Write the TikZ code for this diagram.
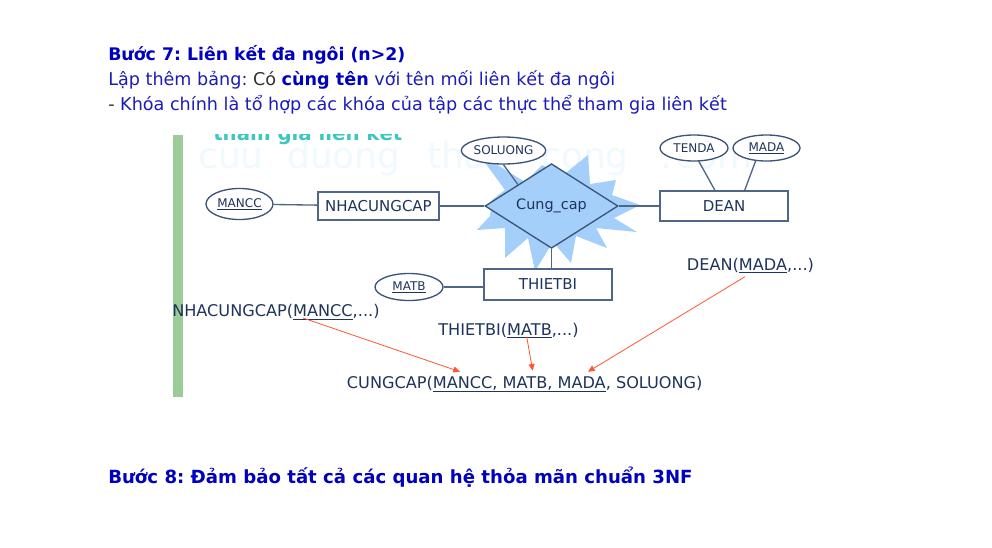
\documentclass[tikz,border=0pt]{standalone}
\usepackage{fontspec}
\setmainfont{DejaVu Sans}
\usetikzlibrary{shapes.geometric,arrows.meta,calc}
\definecolor{hblue}{RGB}{0,0,192}
\definecolor{tblue}{RGB}{28,28,184}
\definecolor{tgray}{RGB}{50,50,50}
\definecolor{diag}{RGB}{30,52,92}
\definecolor{lineC}{RGB}{80,102,135}
\definecolor{ellC}{RGB}{60,84,120}
\definecolor{starC}{RGB}{163,207,250}
\definecolor{arrowC}{RGB}{255,85,50}
\definecolor{barC}{RGB}{156,204,152}
\definecolor{wmC}{RGB}{240,249,254}
\definecolor{tealC}{RGB}{60,200,192}
\def\pxu{0.75pt}
\frenchspacing
\begin{document}
\begin{tikzpicture}[x=0.75pt,y=-0.75pt,
  hdr/.style={anchor=base west, inner sep=0, font=\fontsize{13.2}{15}\selectfont},
  rel/.style={anchor=base west, inner sep=0, text=diag, font=\fontsize{12.1}{14}\selectfont},
  ent/.style={rectangle, draw=lineC, fill=white, line width=1pt, inner sep=0, text=diag, font=\fontsize{11.25}{13}\selectfont},
  attr/.style={ellipse, draw=ellC, fill=white, line width=1pt, inner sep=0, text=diag, font=\fontsize{9}{11}\selectfont},
  rship/.style={diamond, draw=ellC, fill=starC, line width=1pt, inner sep=0, text=diag, font=\fontsize{10.8}{13}\selectfont},
  conn/.style={draw=lineC, line width=1pt},
  fk/.style={draw=arrowC, line width=0.6pt, -{Triangle[length=5pt,width=4.5pt]}},
  wm/.style={anchor=base west, inner sep=0, text=wmC, font=\fontsize{27}{30}\selectfont}
]
\useasboundingbox[fill=white] (0,0) rectangle (992,547);

% header text
\node[hdr, text=hblue, font=\fontsize{13}{15}\selectfont\bfseries] (h1) at (108,60.5) {Bước 7: Liên kết đa ngôi (n>2)};
\node[hdr, text=tblue] (h2) at (108,85.5) {Lập thêm bảng: \textcolor{tgray}{Có} \textbf{\textcolor{hblue}{cùng tên}} với tên mối liên kết đa ngôi};
\node[hdr, text=tblue] (h3) at (108,110.5) {\textcolor{tgray}{-} Khóa chính là tổ hợp các khóa của tập các thực thể tham gia liên kết};
\node[hdr, text=hblue, font=\fontsize{13.6}{15}\selectfont\bfseries] (h8) at (108,483.5) {Bước 8: Đảm bảo tất cả các quan hệ thỏa mãn chuẩn 3NF};

\begin{scope}
\clip (0,134.5) rectangle (992,547);
% watermark
\node[wm] (w1) at (198,168) {cuu};
\node[wm] (w2) at (287,168) {duong};
\node[wm] (w3) at (427,168) {than};
\node[wm] (w4) at (541,168) {cong};
\node[wm] (w5) at (660,168) {.};
\node[wm] (w6) at (675,168) {com};
% clipped slide title remnant
\node[anchor=base west, inner sep=0, text=tealC, font=\fontsize{14.8}{17}\selectfont\bfseries] (tg) at (213,140.5) {tham gia liên kết};
% green bar
\fill[barC] (173,134.5) rectangle (183,397);

% starburst
\fill[starC] (478,153) -- (525,182) -- (542,165) -- (562,176) -- (588,155) -- (590,184)
  -- (616,180) -- (612,195) -- (640,205) -- (614,218) -- (637,232) -- (596,228)
  -- (607,248) -- (576,236) -- (571,263) -- (553,242) -- (535,271) -- (528,238)
  -- (505,258) -- (505,228) -- (477,230) -- (490,216) -- (492,200) -- (505,190) -- cycle;

% entities, relationship, attributes
\node[ent, minimum width=121*\pxu, minimum height=28*\pxu] (ncc) at (378.5,206) {NHACUNGCAP};
\node[ent, minimum width=128*\pxu, minimum height=30*\pxu] (dean) at (724,206) {DEAN};
\node[ent, minimum width=128*\pxu, minimum height=31*\pxu] (tb) at (548,284.5) {THIETBI};
\node[rship, minimum width=133*\pxu, minimum height=54*\pxu] (cc) at (551.5,206) {Cung\_cap};
\node[attr, minimum width=67*\pxu, minimum height=31*\pxu] (mancc) at (239.5,204) {\underline{MANCC}};
\node[attr, minimum width=73*\pxu, minimum height=27*\pxu] (sol) at (503.5,150.5) {SOLUONG};
\node[attr, minimum width=68*\pxu, minimum height=26*\pxu] (tenda) at (694,148) {TENDA};
\node[attr, minimum width=67*\pxu, minimum height=26*\pxu] (mada) at (766.5,148) {\underline{MADA}};
\node[attr, minimum width=68*\pxu, minimum height=27*\pxu] (matb) at (409,287) {\underline{MATB}};

% connectors
\draw[conn] (mancc) -- (ncc);
\draw[conn] (ncc) -- (cc);
\draw[conn] (cc) -- (dean);
\draw[conn] (cc.south) -- (cc.south |- tb.north);
\draw[conn] (matb.east) -- (matb.east -| tb.west);
\draw[conn] (sol.south) -- ($(cc.west)!0.5!(cc.north)$);
\draw[conn] (tenda.-70) -- ($(dean.north west)!0.43!(dean.north east)$);
\draw[conn] (mada.-130) -- ($(dean.north west)!0.66!(dean.north east)$);

% relation schemas
\node[rel] (rncc) at (172,316.7) {NHACUNGCAP(\underline{MANCC},...)};
\node[rel] (rtb) at (438,335) {THIETBI(\underline{MATB},...)};
\node[rel] (rdean) at (686.7,270) {DEAN(\underline{MADA},...)};
\node[rel] (rcc) at (346.7,388) {CUNGCAP(\underline{MANCC, MATB, MADA}, SOLUONG)};

% foreign key arrows
\coordinate (a1s) at (303,318);
\coordinate (a1e) at (460,371.7);
\coordinate (a2s) at (526.7,336.7);
\coordinate (a2e) at (532.7,370.7);
\coordinate (a3s) at (745,276.7);
\coordinate (a3e) at (588,371.7);
\draw[fk] (a1s) -- (a1e);
\draw[fk] (a2s) -- (a2e);
\draw[fk] (a3s) -- (a3e);
\end{scope}
\end{tikzpicture}
\end{document}
